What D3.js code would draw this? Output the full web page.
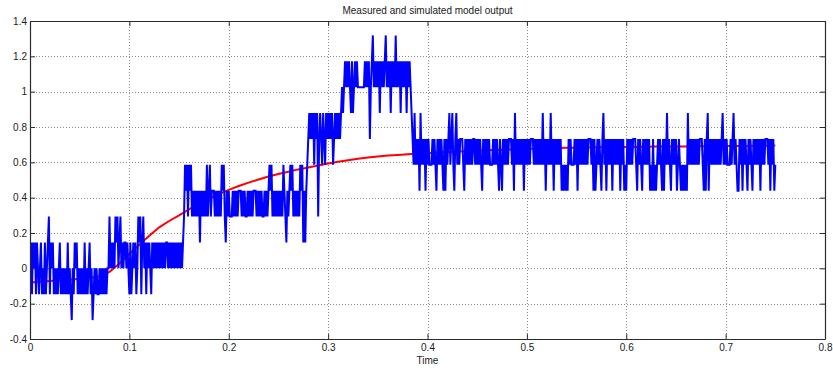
<!DOCTYPE html>
<html>
<head>
<meta charset="utf-8">
<script src="https://cdn.jsdelivr.net/npm/d3@7"></script>
<style>
  html, body { margin: 0; padding: 0; background: #fff; }
  svg { display: block; }
  text { font-family: "Liberation Sans", Arial, Helvetica, sans-serif; fill: #1a1a1a; }
</style>
</head>
<body>
<svg id="chart" width="833" height="372"></svg>
<script>
// ---- data -------------------------------------------------------------
const chartTitle = "Measured and simulated model output";
const xLabel = "Time";

const xTicks = [0, 0.1, 0.2, 0.3, 0.4, 0.5, 0.6, 0.7, 0.8];
const xTickLabels = ["0", "0.1", "0.2", "0.3", "0.4", "0.5", "0.6", "0.7", "0.8"];
const yTicks = [-0.4, -0.2, 0, 0.2, 0.4, 0.6, 0.8, 1, 1.2, 1.4];
const yTickLabels = ["-0.4", "-0.2", "0", "0.2", "0.4", "0.6", "0.8", "1", "1.2", "1.4"];

// measured signal: quantised sensor counts, one sample per millisecond
const sampleTime = 0.001;
const quantStep = 0.1465;
const measuredCounts = [
  -1,1,-1,1,0,1,-1,1,0,-1,   0,1,-1,0,-1,1,-1,0,1,2,
  -1,1,0,1,-1,0,-1,0,-1,0,   1,-1,0,-1,0,-1,0,-1,1,-1,
  0,-1,-2,0,-1,1,0,1,-1,0,   -1,0,-1,0,-1,1,-1,0,-1,0,
  1,-1,0,-2,-1,0,-1,0,-1,-1, 0,-1,0,-1,0,-1,0,-1,0,
  0,
  2,0,1,0,1,0,2,1,2,0,       1,2,0,1,0,1,1,0,1,0,
  -1,1,-1,0,1,0,1,-1,0,2,    1,2,-1,1,2,0,1,-1,1,0,
  1,0,-1,1,0,1,0,1,0,1,      0,1,0,1,0,1,0,1,1,0,
  1,0,1,0,1,0,1,0,1,0,       1,0,1,0,1,
  2,4,3,4,2,
  4,3,4,2,3,2,3,2,3,2,       3,1,3,2,3,2,3,2,4,2,
  3,4,2,3,3,3,2,3,2,3,       2,3,2,4,3,4,2,1,3,2,
  3,2,2,2,3,2,3,2,3,2,       3,3,3,2,3,2,3,2,2,3,
  2,3,2,3,2,3,3,3,2,3,       2,3,2,3,2,2,3,2,3,2,
  3,4,3,4,2,3,2,3,2,3,       2,3,2,3,2,4,3,2,1,3,
  2,3,4,3,4,2,3,2,3,2,       3,2,4,3,4,1,3,1,3,4,
  5,6,5,6,5,6,4,6,5,6,       2,5,6,5,4,6,5,4,6,5,
  6,5,6,5,6,4,5,6,5,6,       5,6,5,6,7,6,7,8,7,8,
  7,8,7,6,8,6,7,8,7,8,       7,7,7,7,7,7,7,8,7,8,
  7,8,5,7,8,9,7,8,7,8,       7,8,6,8,7,8,7,8,9,7,
  8,7,8,6,8,7,8,7,9,7,       8,7,8,6,8,7,8,7,8,6,
  8,7,8,7,6,
  5,4,6,4,5,
  4,5,3,6,4,5,4,5,3,5,       4,5,4,4,4,5,4,5,4,3,
  5,4,5,4,5,4,3,5,3,5,       4,5,6,4,5,6,4,3,5,6,
  4,5,4,5,5,5,4,3,5,4,       5,4,5,4,5,4,5,5,4,5,
  4,5,4,5,4,3,5,4,5,4,       5,4,5,4,4,4,5,4,5,4,
  5,4,3,5,4,3,5,4,5,4,       5,4,5,5,5,4,5,3,6,4,
  5,4,5,4,5,4,5,3,5,4,       5,4,5,4,5,5,5,4,5,4,
  5,4,5,4,5,4,6,4,5,3,       5,4,5,4,6,4,5,3,5,4,
  5,4,5,4,5,3,4,3,4,3,       4,3,5,4,5,4,4,4,5,4,
  5,3,5,4,5,4,5,4,5,4,       5,4,5,5,5,4,5,3,5,3,
  4,5,4,5,4,3,5,6,4,5,       3,5,4,5,4,5,3,5,4,5,
  4,5,4,5,3,5,4,5,3,4,       3,5,4,5,4,5,4,5,5,5,
  4,3,5,4,5,4,3,5,4,5,       4,5,4,5,3,4,3,5,3,4,
  3,4,5,4,5,4,3,5,3,5,       4,6,4,5,4,3,5,4,5,4,
  5,3,4,5,4,3,4,3,4,3,       4,3,6,4,5,4,5,4,5,4,
  5,4,5,4,5,5,5,4,3,5,       3,5,6,3,5,4,5,4,5,4,
  5,4,5,4,5,4,5,6,4,5,       4,5,4,4,4,5,4,5,6,4,
  5,4,3,3,5,4,5,3,5,4,       5,4,3,5,4,5,4,3,5,4,
  5,4,5,4,5,3,5,4,5,4,       5,5,5,4,5,3,5,4,5,3,
  4
];

// simulated model output, sampled every 10 ms
const simStep = 0.01;
const simulatedOutput = [
  -0.080, -0.076, -0.072, -0.068, -0.064, -0.059, -0.054, -0.045, -0.020, 0.027,
   0.083,  0.133,  0.185,  0.232,  0.268,  0.300,  0.334,  0.366,  0.394, 0.420,
   0.444,  0.466,  0.485,  0.503,  0.520,  0.534,  0.547,  0.560,  0.571, 0.582,
   0.593,  0.603,  0.612,  0.620,  0.627,  0.633,  0.638,  0.642,  0.646, 0.649,
   0.652,  0.655,  0.658,  0.661,  0.663,  0.666,  0.668,  0.670,  0.672, 0.674,
   0.676,  0.678,  0.680,  0.681,  0.682,  0.683,  0.684,  0.685,  0.686, 0.686,
   0.687,  0.687,  0.688,  0.689,  0.689,  0.690,  0.690,  0.691,  0.691, 0.692,
   0.692,  0.693,  0.693,  0.694,  0.694,  0.695
];

// ---- layout -----------------------------------------------------------
const W = 833, H = 372;
const plot = { left: 30, right: 825, top: 21, bottom: 339 };

const svg = d3.select("#chart");
svg.append("rect").attr("width", W).attr("height", H).attr("fill", "#fff");

const x = d3.scaleLinear().domain([0, 0.8]).range([plot.left, plot.right]);
const y = d3.scaleLinear().domain([-0.4, 1.4]).range([plot.bottom, plot.top]);

// dotted grid
const grid = svg.append("g").attr("class", "grid")
  .attr("stroke", "#8a8a8a").attr("stroke-width", 1).attr("stroke-dasharray", "1,2");
grid.selectAll("line.gx").data(xTicks.slice(1, -1)).join("line")
  .attr("x1", d => Math.round(x(d)) + 0.5).attr("x2", d => Math.round(x(d)) + 0.5)
  .attr("y1", plot.top).attr("y2", plot.bottom);
grid.selectAll("line.gy").data(yTicks.slice(1, -1)).join("line")
  .attr("y1", d => Math.round(y(d)) + 0.5).attr("y2", d => Math.round(y(d)) + 0.5)
  .attr("x1", plot.left).attr("x2", plot.right);

// clip to the axes box
svg.append("clipPath").attr("id", "plotClip").append("rect")
  .attr("x", plot.left).attr("y", plot.top)
  .attr("width", plot.right - plot.left).attr("height", plot.bottom - plot.top);

const dataLayer = svg.append("g").attr("clip-path", "url(#plotClip)");

// simulated output (red)
const simLine = d3.line()
  .x((d, i) => x(i * simStep))
  .y(d => y(d));
dataLayer.append("path")
  .datum(simulatedOutput)
  .attr("fill", "none")
  .attr("stroke", "#ff0000")
  .attr("stroke-width", 2)
  .attr("d", simLine);

// measured output (blue)
const measLine = d3.line()
  .x((d, i) => x(i * sampleTime))
  .y(d => y(d * quantStep));
dataLayer.append("path")
  .datum(measuredCounts)
  .attr("fill", "none")
  .attr("stroke", "#0000ff")
  .attr("stroke-width", 2)
  .attr("stroke-linejoin", "miter")
  .attr("d", measLine);

// ---- axes (ticks drawn inward on all four sides) ----------------------
const fmtX = d => xTickLabels[xTicks.indexOf(d)];
const fmtY = d => yTickLabels[yTicks.indexOf(d)];

const axB = svg.append("g").attr("transform", `translate(0,${plot.bottom})`)
  .call(d3.axisBottom(x).tickValues(xTicks).tickFormat(fmtX).tickSize(-5).tickSizeOuter(0).tickPadding(5));
const axT = svg.append("g").attr("transform", `translate(0,${plot.top})`)
  .call(d3.axisTop(x).tickValues(xTicks).tickFormat("").tickSize(-5).tickSizeOuter(0));
const axL = svg.append("g").attr("transform", `translate(${plot.left},0)`)
  .call(d3.axisLeft(y).tickValues(yTicks).tickFormat(fmtY).tickSize(-5).tickSizeOuter(0).tickPadding(3));
const axR = svg.append("g").attr("transform", `translate(${plot.right},0)`)
  .call(d3.axisRight(y).tickValues(yTicks).tickFormat("").tickSize(-5).tickSizeOuter(0));

[axB, axT, axL, axR].forEach(g => {
  g.select(".domain").attr("stroke", "#2b2b2b").attr("stroke-width", 1.2);
  g.selectAll(".tick line").attr("stroke", "#2b2b2b");
  g.selectAll(".tick text")
    .attr("font-size", 10)
    .attr("font-family", "'Liberation Sans', Arial, sans-serif")
    .attr("fill", "#1a1a1a");
});

// title and axis label
svg.append("text")
  .attr("x", (plot.left + plot.right) / 2).attr("y", 14)
  .attr("text-anchor", "middle").attr("font-size", 10)
  .text(chartTitle);
svg.append("text")
  .attr("x", (plot.left + plot.right) / 2).attr("y", 364)
  .attr("text-anchor", "middle").attr("font-size", 10)
  .text(xLabel);
</script>
</body>
</html>
